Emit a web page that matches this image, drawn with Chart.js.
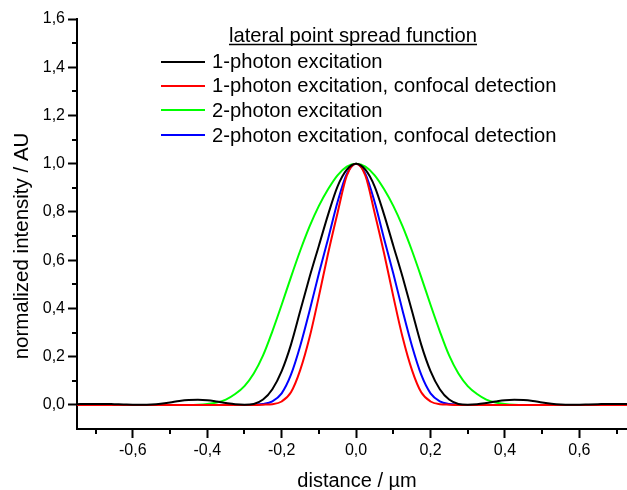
<!DOCTYPE html>
<html>
<head>
<meta charset="utf-8">
<script src="https://cdn.jsdelivr.net/npm/chart.js@4.4.1/dist/chart.umd.min.js"></script>
<style>
  html, body { margin: 0; padding: 0; background: #fff; }
  #wrap { width: 627px; height: 490px; }
</style>
</head>
<body>
<div id="wrap"><canvas id="chartCanvas" width="627" height="490"></canvas></div>
<script>
var legendTitle = 'lateral point spread function';
var xTitle = 'distance / µm';
var yTitle = 'normalized intensity / AU';

var distance = [-0.75, -0.725, -0.7, -0.675, -0.65, -0.625, -0.6, -0.575, -0.55, -0.525,
  -0.5, -0.475, -0.45, -0.425, -0.4, -0.375, -0.35, -0.325, -0.3, -0.275,
  -0.25, -0.225, -0.2, -0.175, -0.15, -0.125, -0.1, -0.075, -0.05, -0.025,
  0,
  0.025, 0.05, 0.075, 0.1, 0.125, 0.15, 0.175, 0.2, 0.225, 0.25,
  0.275, 0.3, 0.325, 0.35, 0.375, 0.4, 0.425, 0.45, 0.475, 0.5,
  0.525, 0.55, 0.575, 0.6, 0.625, 0.65, 0.675, 0.7, 0.725, 0.75];

var onePhoton = [0.003, 0.004, 0.004, 0.004, 0.003, 0.002, 0.001, 0.001, 0.002, 0.005,
  0.010, 0.016, 0.020, 0.021, 0.019, 0.014, 0.008, 0.003, 0.001, 0.004,
  0.022, 0.065, 0.140, 0.250, 0.390, 0.530, 0.660, 0.790, 0.905, 0.975,
  1.000,
  0.975, 0.905, 0.790, 0.660, 0.530, 0.390, 0.250, 0.140, 0.065, 0.022,
  0.004, 0.001, 0.003, 0.008, 0.014, 0.019, 0.021, 0.020, 0.016, 0.010,
  0.005, 0.002, 0.001, 0.001, 0.002, 0.003, 0.004, 0.004, 0.004, 0.003];

var onePhotonConfocal = [0, 0, 0, 0, 0, 0, 0, 0, 0, 0,
  0, 0, 0, 0, 0, 0, 0, 0, 0, 0,
  0.001, 0.003, 0.014, 0.052, 0.145, 0.280, 0.450, 0.630, 0.795, 0.950,
  1.000,
  0.950, 0.795, 0.630, 0.450, 0.280, 0.145, 0.052, 0.014, 0.003, 0.001,
  0, 0, 0, 0, 0, 0, 0, 0, 0, 0,
  0, 0, 0, 0, 0, 0, 0, 0, 0, 0];

var twoPhoton = [0, 0, 0, 0, 0, 0, 0, 0, 0, 0,
  0, 0, 0, 0.001, 0.004, 0.010, 0.022, 0.045, 0.078, 0.130,
  0.205, 0.305, 0.415, 0.530, 0.640, 0.740, 0.825, 0.895, 0.952, 0.988,
  1.000,
  0.988, 0.952, 0.895, 0.825, 0.740, 0.640, 0.530, 0.415, 0.305, 0.205,
  0.130, 0.078, 0.045, 0.022, 0.010, 0.004, 0.001, 0, 0, 0,
  0, 0, 0, 0, 0, 0, 0, 0, 0, 0];

var twoPhotonConfocal = [0, 0, 0, 0, 0, 0, 0, 0, 0, 0,
  0, 0, 0, 0, 0, 0, 0, 0, 0, 0.001,
  0.004, 0.015, 0.048, 0.125, 0.245, 0.390, 0.545, 0.690, 0.840, 0.958,
  1.000,
  0.958, 0.840, 0.690, 0.545, 0.390, 0.245, 0.125, 0.048, 0.015, 0.004,
  0.001, 0, 0, 0, 0, 0, 0, 0, 0, 0,
  0, 0, 0, 0, 0, 0, 0, 0, 0, 0];

var seriesLabels = ['1-photon excitation', '1-photon excitation, confocal detection',
  '2-photon excitation', '2-photon excitation, confocal detection'];
var seriesColors = ['#000000', '#ff0000', '#00ff00', '#0000ff'];
var seriesValues = [onePhoton, onePhotonConfocal, twoPhoton, twoPhotonConfocal];

var xTicks = [-0.6, -0.4, -0.2, 0, 0.2, 0.4, 0.6];
var xMinorTicks = [-0.7, -0.5, -0.3, -0.1, 0.1, 0.3, 0.5, 0.7];
var yTicks = [0, 0.2, 0.4, 0.6, 0.8, 1.0, 1.2, 1.4, 1.6];
var yMinorTicks = [0.1, 0.3, 0.5, 0.7, 0.9, 1.1, 1.3, 1.5];

var FONT = '"Liberation Sans", Arial, sans-serif';

function commaLabel(v) {
  return v.toFixed(1).replace('.', ',').replace('-0,0', '0,0');
}

function buildDatasets() {
  return seriesValues.map(function(vals, i) {
    return {
      label: seriesLabels[i],
      data: vals.map(function(v, j) { return { x: distance[j], y: v }; }),
      borderColor: seriesColors[i],
      borderWidth: 2,
      pointRadius: 0,
      fill: false,
      cubicInterpolationMode: 'monotone'
    };
  });
}

var overlay = {
  id: 'overlay',
  afterDraw: function(chart) {
    var ctx = chart.ctx;
    var xs = chart.scales.x, ys = chart.scales.y;
    ctx.save();
    ctx.strokeStyle = '#000';
    ctx.lineWidth = 2;

    // minor ticks
    xMinorTicks.forEach(function(v) {
      var px = Math.round(xs.getPixelForValue(v));
      ctx.beginPath();
      ctx.moveTo(px, xs.top);
      ctx.lineTo(px, xs.top + 5);
      ctx.stroke();
    });
    yMinorTicks.forEach(function(v) {
      var py = Math.round(ys.getPixelForValue(v));
      ctx.beginPath();
      ctx.moveTo(ys.right, py);
      ctx.lineTo(ys.right - 5, py);
      ctx.stroke();
    });

    // axis titles
    ctx.fillStyle = '#000';
    ctx.font = '20px ' + FONT;
    ctx.textAlign = 'center';
    ctx.textBaseline = 'alphabetic';
    ctx.fillText(xTitle, 357, 487);
    ctx.save();
    ctx.translate(28, 246);
    ctx.rotate(-Math.PI / 2);
    ctx.font = '20.5px ' + FONT;
    ctx.fillText(yTitle, 0, 0);
    ctx.restore();

    // legend
    ctx.font = '20.2px ' + FONT;
    ctx.fillText(legendTitle, 353, 42);
    var tw = ctx.measureText(legendTitle).width;
    ctx.lineWidth = 1.5;
    ctx.beginPath();
    ctx.moveTo(353 - tw / 2, 44.5);
    ctx.lineTo(353 + tw / 2, 44.5);
    ctx.stroke();

    var rowsLine = [62, 86, 110, 135];
    var rowsText = [68, 92, 117, 142];
    ctx.textAlign = 'left';
    chart.data.datasets.forEach(function(ds, i) {
      ctx.strokeStyle = ds.borderColor;
      ctx.lineWidth = 2;
      ctx.beginPath();
      ctx.moveTo(161, rowsLine[i]);
      ctx.lineTo(205, rowsLine[i]);
      ctx.stroke();
      ctx.fillStyle = '#000';
      ctx.fillText(ds.label, 212, rowsText[i]);
    });
    ctx.restore();
  }
};

function axisCommon(ticksList) {
  return {
    grid: { display: true, drawOnChartArea: false, drawTicks: true, tickLength: 9, tickWidth: 2, tickColor: '#000' },
    border: { display: true, color: '#000', width: 2 },
    ticks: {
      color: '#000',
      font: { family: FONT, size: 16 },
      padding: 3,
      autoSkip: false,
      maxRotation: 0,
      callback: function(value) { return commaLabel(value); }
    },
    afterBuildTicks: function(scale) {
      scale.ticks = ticksList.map(function(v) { return { value: v }; });
    }
  };
}

var xOpts = axisCommon(xTicks);
xOpts.type = 'linear';
xOpts.min = -0.75;
xOpts.max = 0.728;
xOpts.afterFit = function(scale) { scale.height = 61; };

var yOpts = axisCommon(yTicks);
yOpts.type = 'linear';
yOpts.min = -0.1;
yOpts.max = 1.6;
yOpts.afterFit = function(scale) { scale.width = 77; };

new Chart(document.getElementById('chartCanvas'), {
  type: 'line',
  data: { datasets: buildDatasets() },
  options: {
    responsive: false,
    animation: false,
    layout: { padding: { top: 19, right: 0, left: 0, bottom: 0 } },
    plugins: { legend: { display: false }, tooltip: { enabled: false } },
    scales: { x: xOpts, y: yOpts }
  },
  plugins: [overlay]
});
</script>
</body>
</html>
